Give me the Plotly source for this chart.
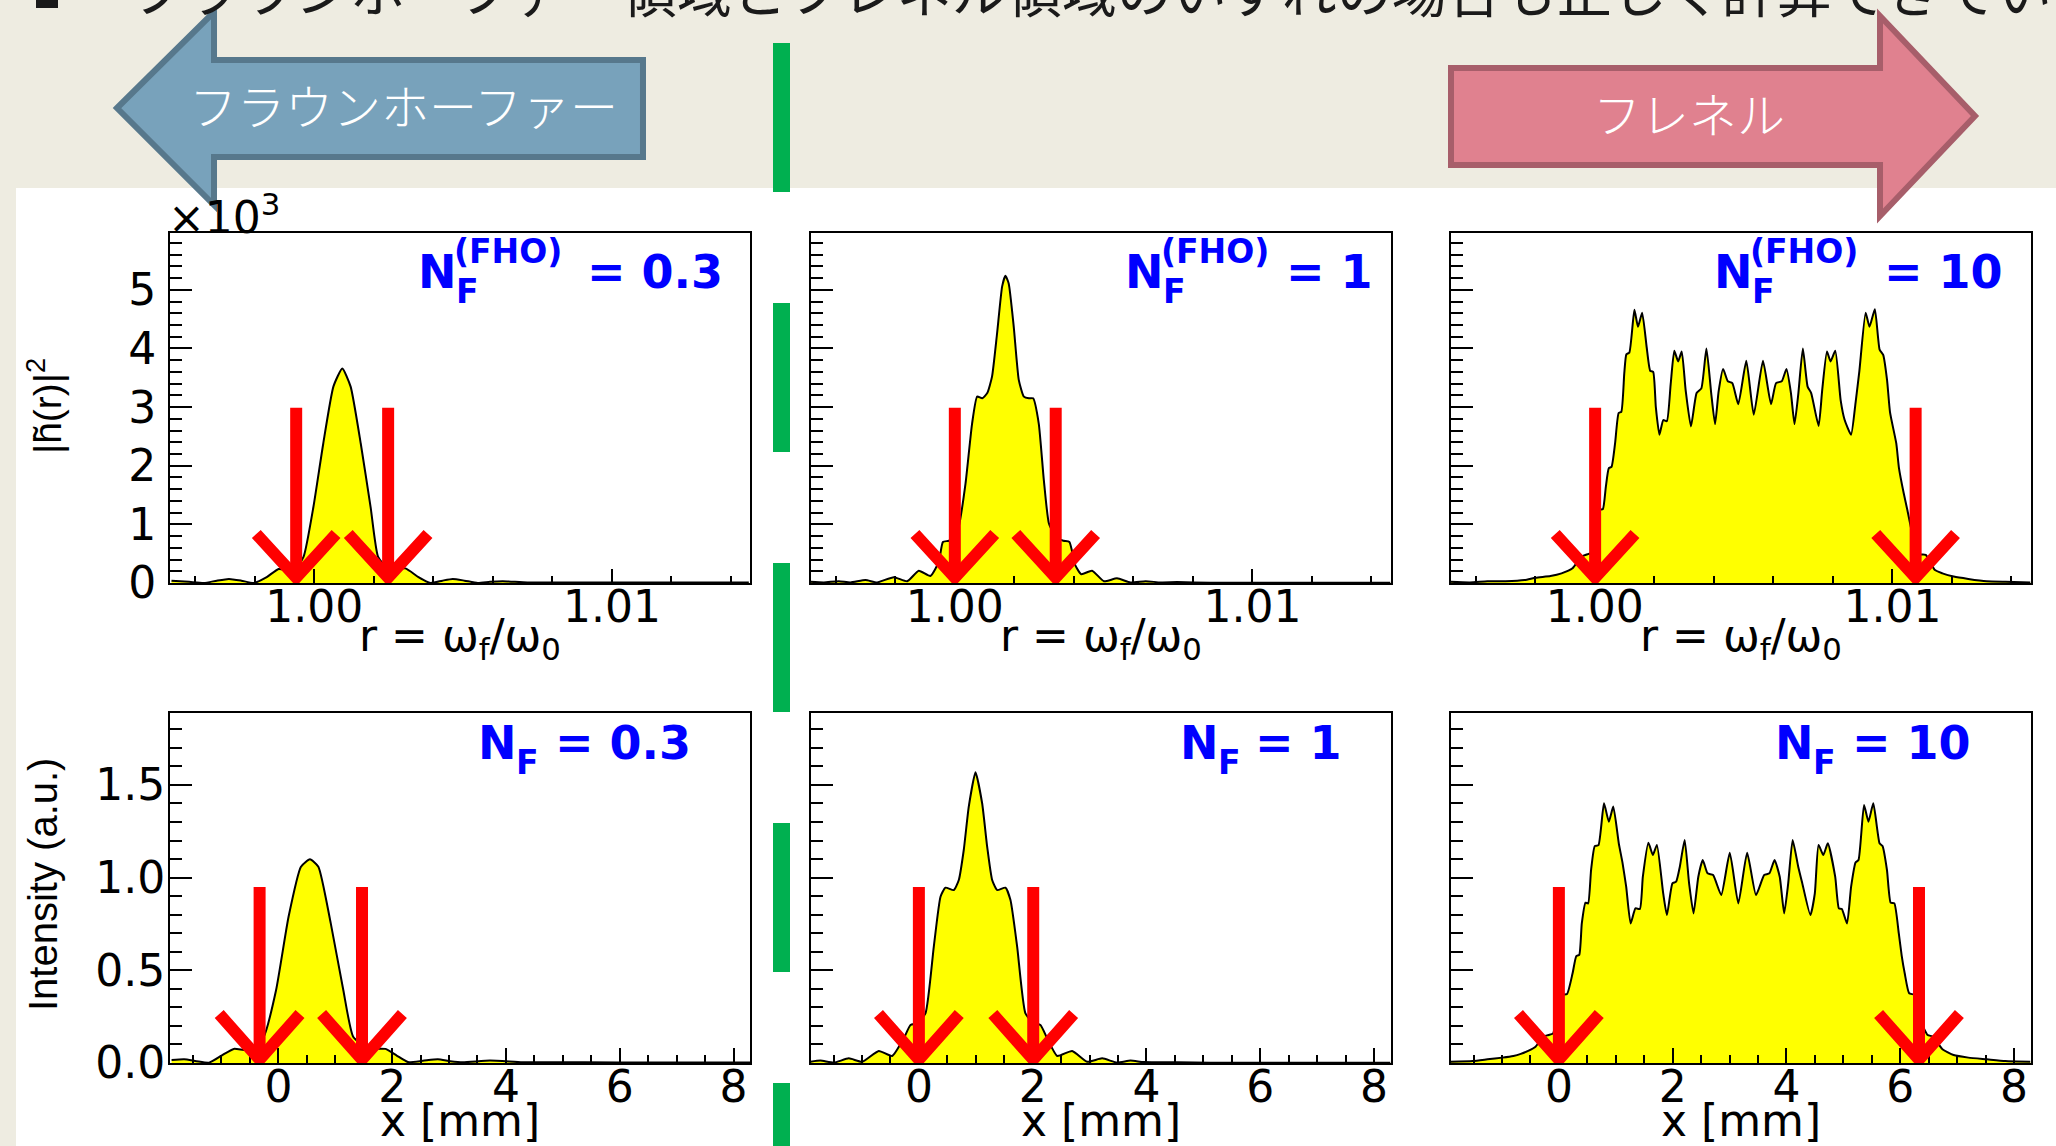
import plotly.graph_objects as go

W, H = 2056, 1146

# ---------------- data ----------------
# top row: |h~(r)|^2 (units of 10^3) versus r = omega_f / omega_0
R_NF03 = [0.99520, 0.99579, 0.99629, 0.99672, 0.99713, 0.99755, 0.99796, 0.99840, 0.99880, 0.99930,
          0.99964, 0.99997, 1.00030, 1.00064, 1.00094, 1.00122, 1.00156, 1.00189, 1.00214, 1.00248,
          1.00306, 1.00350, 1.00390, 1.00430, 1.00465, 1.00505, 1.00549, 1.00590, 1.00633, 1.00716,
          1.00950, 1.01200, 1.01460]
H_NF03 = [0.04, 0.02, 0.00, 0.04, 0.07, 0.04, 0.00, 0.10, 0.24, 0.20,
          0.45, 1.30, 2.38, 3.35, 3.66, 3.35, 2.38, 1.30, 0.45, 0.24,
          0.25, 0.10, 0.00, 0.04, 0.07, 0.04, 0.00, 0.02, 0.03, 0.01,
          0.01, 0.01, 0.01]

R_NF1 = [0.99515, 0.99560, 0.99610, 0.99649, 0.99700, 0.99739, 0.99795, 0.99840, 0.99879, 0.99918,
         0.99946, 0.99960, 0.99980, 1.00000, 1.00013, 1.00036, 1.00058, 1.00075, 1.00092, 1.00109,
         1.00125, 1.00142, 1.00159, 1.00170, 1.00181, 1.00198, 1.00215, 1.00232, 1.00249, 1.00263,
         1.00282, 1.00299, 1.00316, 1.00340, 1.00365, 1.00385, 1.00405, 1.00425, 1.00461, 1.00501,
         1.00545, 1.00590, 1.00641, 1.00691, 1.00747, 1.00859, 1.01000, 1.01200, 1.01464]
H_NF1 = [0.02, 0.01, 0.03, 0.01, 0.05, 0.01, 0.10, 0.03, 0.21, 0.12,
         0.36, 0.70, 0.72, 0.78, 0.96, 1.70, 2.72, 3.18, 3.15, 3.24,
         3.52, 4.26, 5.06, 5.24, 5.11, 4.37, 3.46, 3.18, 3.15, 3.15,
         2.72, 1.76, 1.02, 0.78, 0.72, 0.70, 0.30, 0.15, 0.21, 0.03,
         0.08, 0.01, 0.03, 0.01, 0.015, 0.005, 0.005, 0.005, 0.005]

R_NF10 = [0.99515, 0.99580, 0.99639, 0.99700, 0.99764, 0.99801, 0.99851, 0.99888, 0.99925, 0.99955,
          0.99975, 1.00005, 1.00015, 1.00027, 1.00037, 1.00047, 1.00056, 1.00068, 1.00080, 1.00089,
          1.00099, 1.00106, 1.00116, 1.00133, 1.00145, 1.00159, 1.00174, 1.00186, 1.00196, 1.00205,
          1.00217, 1.00230, 1.00242, 1.00255, 1.00267, 1.00280, 1.00292, 1.00305, 1.00323, 1.00342,
          1.00358, 1.00375, 1.00391, 1.00404, 1.00416, 1.00431, 1.00447, 1.00462, 1.00482, 1.00509,
          1.00534, 1.00565, 1.00592, 1.00609, 1.00628, 1.00644, 1.00659, 1.00671, 1.00684, 1.00699,
          1.00715, 1.00727, 1.00752, 1.00764, 1.00780, 1.00792, 1.00808, 1.00826, 1.00839, 1.00861,
          1.00876, 1.00889, 1.00910, 1.00923, 1.00941, 1.00957, 1.00969, 1.00982, 1.00992, 1.01013,
          1.01022, 1.01038, 1.01050, 1.01069, 1.01088, 1.01112, 1.01143, 1.01168, 1.01206, 1.01255,
          1.01317, 1.01380, 1.01464]
H_NF10 = [0.02, 0.01, 0.03, 0.03, 0.05, 0.09, 0.12, 0.165, 0.25, 0.45,
          0.49, 0.55, 1.25, 1.26, 1.64, 1.96, 1.98, 2.38, 2.90, 2.92,
          3.58, 3.90, 3.93, 4.66, 4.37, 4.61, 4.03, 3.62, 3.60, 3.00,
          2.53, 2.78, 2.76, 3.40, 3.96, 3.78, 3.95, 3.30, 2.67, 3.24,
          3.32, 4.00, 3.24, 2.71, 3.27, 3.65, 3.44, 3.41, 3.05, 3.79,
          2.87, 3.79, 3.05, 3.41, 3.44, 3.65, 3.24, 2.71, 3.24, 4.00,
          3.35, 3.24, 2.68, 3.29, 3.95, 3.78, 3.96, 3.12, 2.79, 2.53,
          3.07, 3.62, 4.61, 4.37, 4.67, 3.98, 3.89, 3.46, 2.91, 2.38,
          1.96, 1.53, 1.25, 0.79, 0.49, 0.48, 0.22, 0.165, 0.11, 0.07,
          0.03, 0.02, 0.01]

# bottom row: intensity (a.u.) versus x [mm]
X_NF03 = [-1.877, -1.657, -1.440, -1.220, -1.000, -0.784, -0.521, -0.258, -0.040, 0.179,
          0.397, 0.555, 0.703, 0.921, 1.141, 1.315, 1.578, 1.884, 2.080, 2.278,
          2.540, 2.801, 3.020, 3.239, 3.719, 4.288, 4.726, 6.000, 8.292]
I_NF03 = [0.016, 0.020, 0.010, 0.002, 0.040, 0.076, 0.070, 0.142, 0.394, 0.789,
          1.059, 1.099, 1.059, 0.753, 0.394, 0.142, 0.079, 0.076, 0.040, 0.005,
          0.012, 0.020, 0.010, 0.004, 0.013, 0.004, 0.004, 0.003, 0.003]

X_NF1 = [-1.905, -1.729, -1.495, -1.232, -0.997, -0.705, -0.470, -0.265, -0.147, -0.030,
         0.116, 0.262, 0.380, 0.467, 0.614, 0.702, 0.789, 0.877, 0.995, 1.112,
         1.200, 1.288, 1.376, 1.522, 1.610, 1.728, 1.873, 2.019, 2.137, 2.255,
         2.431, 2.694, 2.958, 3.222, 3.486, 3.719, 3.953, 4.540, 5.125, 8.290]
I_NF1 = [0.007, 0.013, 0.002, 0.025, 0.007, 0.065, 0.038, 0.133, 0.205, 0.214,
         0.268, 0.627, 0.897, 0.946, 0.933, 0.987, 1.149, 1.383, 1.568, 1.401,
         1.167, 0.987, 0.933, 0.946, 0.879, 0.627, 0.268, 0.214, 0.205, 0.133,
         0.038, 0.065, 0.007, 0.025, 0.002, 0.013, 0.005, 0.004, 0.002, 0.002]

X_NF10 = [-1.905, -1.515, -1.255, -0.995, -0.800, -0.670, -0.540, -0.410, -0.280, -0.182,
          -0.100, -0.052, 0.046, 0.143, 0.241, 0.306, 0.358, 0.403, 0.468, 0.514,
          0.566, 0.631, 0.696, 0.793, 0.878, 0.956, 1.053, 1.118, 1.183, 1.261,
          1.346, 1.424, 1.476, 1.574, 1.652, 1.723, 1.834, 1.899, 1.996, 2.061,
          2.126, 2.211, 2.289, 2.367, 2.451, 2.529, 2.614, 2.711, 2.854, 3.004,
          3.154, 3.309, 3.465, 3.609, 3.700, 3.791, 3.882, 3.960, 4.031, 4.109,
          4.207, 4.272, 4.421, 4.499, 4.564, 4.649, 4.727, 4.857, 4.922, 4.974,
          5.065, 5.137, 5.215, 5.267, 5.364, 5.442, 5.527, 5.637, 5.689, 5.767,
          5.832, 5.897, 5.975, 6.027, 6.079, 6.157, 6.255, 6.352, 6.482, 6.580,
          6.742, 6.938, 7.198, 7.523, 7.848, 8.290]
I_NF10 = [0.007, 0.011, 0.020, 0.029, 0.038, 0.049, 0.065, 0.088, 0.142, 0.151,
          0.160, 0.232, 0.367, 0.372, 0.484, 0.577, 0.583, 0.753, 0.865, 0.861,
          1.041, 1.170, 1.175, 1.401, 1.302, 1.383, 1.185, 1.081, 0.951, 0.753,
          0.834, 0.831, 1.005, 1.188, 1.122, 1.176, 0.915, 0.798, 0.969, 0.978,
          1.059, 1.203, 0.969, 0.807, 1.005, 1.095, 1.023, 1.014, 0.906, 1.134,
          0.861, 1.134, 0.906, 1.014, 1.023, 1.095, 1.005, 0.807, 0.969, 1.203,
          1.059, 0.978, 0.798, 0.915, 1.176, 1.122, 1.185, 1.005, 0.834, 0.831,
          0.753, 0.951, 1.081, 1.095, 1.392, 1.302, 1.401, 1.185, 1.170, 1.041,
          0.865, 0.861, 0.699, 0.577, 0.484, 0.376, 0.367, 0.232, 0.151, 0.142,
          0.074, 0.043, 0.029, 0.020, 0.011, 0.007]

NF_LABELS = ["0.3", "1", "10"]

# red marker arrows: x positions (data units)
ARROWS_TOP = [[0.99939, 1.00248], [1.00000, 1.00339], [1.00001, 1.01078]]
ARROWS_BOTTOM = [[-0.33, 1.47], [0.00, 2.01], [0.00, 6.33]]

TOP_TEXT = "フラウンホーファー領域とフレネル領域のいずれの場合も正しく計算できてい"
LEFT_ARROW_TEXT = "フラウンホーファー"
RIGHT_ARROW_TEXT = "フレネル"

# ---------------- layout helpers ----------------
def px(x):
    return x / W


def py(y):
    return 1 - y / H


def path_px(points):
    return "M " + " L ".join(f"{px(x):.5f},{py(y):.5f}" for x, y in points) + " Z"


PANEL_X = [(170, 750), (810.5, 1390.5), (1450.5, 2030.5)]
TOP_Y = (233, 583)
BOT_Y = (713, 1063)

LATIN = "DejaVu Sans"
TICKFONT = dict(family=LATIN, size=44, color="black")
axis_common = dict(showline=True, linecolor="black", linewidth=2, mirror=True,
                   ticks="inside", tickcolor="black", tickwidth=2, automargin=False,
                   showgrid=False, zeroline=False, tickfont=TICKFONT)

fig = go.Figure()
layout = dict(width=W, height=H, margin=dict(l=0, r=0, t=0, b=0, pad=0), autosize=False,
              paper_bgcolor="#EEECE1", plot_bgcolor="white", showlegend=False,
              font=dict(family=LATIN, color="black"))

top_data = [(R_NF03, H_NF03), (R_NF1, H_NF1), (R_NF10, H_NF10)]
bot_data = [(X_NF03, I_NF03), (X_NF1, I_NF1), (X_NF10, I_NF10)]

shapes = []
annotations = []

for i in range(6):
    row = 0 if i < 3 else 1
    col = i % 3
    n = i + 1
    xname = "xaxis" if n == 1 else f"xaxis{n}"
    yname = "yaxis" if n == 1 else f"yaxis{n}"
    xref = "x" if n == 1 else f"x{n}"
    yref = "y" if n == 1 else f"y{n}"
    xs, ys = (top_data if row == 0 else bot_data)[col]
    fig.add_trace(go.Scatter(x=xs, y=ys, mode="lines", xaxis=xref, yaxis=yref,
                             line=dict(color="black", width=2, shape="spline", smoothing=0.5),
                             fill="tozeroy", fillcolor="#FFFF00", hoverinfo="skip"))
    x0, x1 = PANEL_X[col]
    ytop, ybot = TOP_Y if row == 0 else BOT_Y
    if row == 0:
        xa = dict(range=[0.99515, 1.01464], tick0=1.0, dtick=0.01, tickformat=".2f", ticklen=14,
                  minor=dict(ticks="inside", tick0=1.0, dtick=0.002, ticklen=7,
                             tickcolor="black", tickwidth=2))
        ya = dict(range=[0, 5.97], tick0=0, dtick=1, ticklen=22, ticklabelstandoff=3,
                  minor=dict(ticks="inside", tick0=0, dtick=0.2, ticklen=12,
                             tickcolor="black", tickwidth=2))
    else:
        xa = dict(range=[-1.905, 8.29], tick0=0, dtick=2, ticklen=15,
                  minor=dict(ticks="inside", tick0=0, dtick=0.5, ticklen=8,
                             tickcolor="black", tickwidth=2))
        ya = dict(range=[0, 1.888], tick0=0, dtick=0.5, tickformat=".1f", ticklen=22,
                  ticklabelstandoff=-6,
                  minor=dict(ticks="inside", tick0=0, dtick=0.1, ticklen=12,
                             tickcolor="black", tickwidth=2))
    layout[xname] = dict(axis_common, domain=[px(x0), px(x1)], anchor=yref,
                         ticklabelstandoff=-16, **xa)
    layout[yname] = dict(axis_common, domain=[py(ybot), py(ytop)], anchor=xref,
                         showticklabels=(col == 0), **ya)

    # red arrows
    if row == 0:
        level, vertex, arm_y, arm_dx = 2.99, 0.094, 0.836, 0.00134
        positions = ARROWS_TOP[col]
    else:
        level, vertex, arm_y, arm_dx = 0.949, 0.019, 0.264, 0.71
        positions = ARROWS_BOTTOM[col]
    for xa_pos in positions:
        shapes.append(dict(type="line", xref=xref, yref=yref, x0=xa_pos, x1=xa_pos,
                           y0=level, y1=vertex, line=dict(color="#FF0000", width=12), layer="above"))
        shapes.append(dict(type="path", xref=xref, yref=yref,
                           path=f"M {xa_pos - arm_dx},{arm_y} L {xa_pos},{vertex} L {xa_pos + arm_dx},{arm_y}",
                           line=dict(color="#FF0000", width=12), layer="above"))

    # axis titles (x)
    cx = (x0 + x1) / 2
    if row == 0:
        annotations.append(dict(text="r = ω<sub>f</sub>/ω<sub>0</sub>", x=px(cx), y=py(638),
                                xref="paper", yref="paper", showarrow=False,
                                xanchor="center", yanchor="middle",
                                font=dict(family=LATIN, size=44, color="black")))
    else:
        annotations.append(dict(text="x [mm]", x=px(cx), y=py(1120),
                                xref="paper", yref="paper", showarrow=False,
                                xanchor="center", yanchor="middle",
                                font=dict(family=LATIN, size=44, color="black")))

# ---------------- blue N_F labels ----------------
BLUE = "#0000FF"
BIG = dict(family=LATIN, size=46, color=BLUE)
SMALL = dict(family=LATIN, size=33, color=BLUE)
top_label_pos = [(416, 585), (1123, 1284), (1712, 1882)]   # N left, "=" left
for (nx, ex), val in zip(top_label_pos, NF_LABELS):
    annotations += [
        dict(text="<b>N</b>", x=px(nx), y=py(272), font=BIG),
        dict(text="<b>(FHO)</b>", x=px(nx + 36), y=py(251), font=SMALL),
        dict(text="<b>F</b>", x=px(nx + 38), y=py(291), font=SMALL),
        dict(text=f"<b>= {val}</b>", x=px(ex), y=py(272), font=BIG),
    ]
bot_label_pos = [(476, 553), (1178, 1253), (1773, 1850)]
for (nx, ex), val in zip(bot_label_pos, NF_LABELS):
    annotations += [
        dict(text="<b>N</b>", x=px(nx), y=py(743), font=BIG),
        dict(text="<b>F</b>", x=px(nx + 38), y=py(762), font=SMALL),
        dict(text=f"<b>= {val}</b>", x=px(ex), y=py(743), font=BIG),
    ]
for a in annotations:
    a.setdefault("xref", "paper")
    a.setdefault("yref", "paper")
    a.setdefault("showarrow", False)
    a.setdefault("xanchor", "left")
    a.setdefault("yanchor", "middle")

# ---------------- y titles, multiplier ----------------
annotations += [
    dict(text="|h\u0303(r)|<sup>2</sup>", x=px(45), y=py(406), xref="paper", yref="paper",
         showarrow=False, textangle=-90, xanchor="center", yanchor="middle",
         font=dict(family="Liberation Sans, Arial", size=39, color="black")),
    dict(text="Intensity (a.u.)", x=px(43), y=py(885), xref="paper", yref="paper",
         showarrow=False, textangle=-90, xanchor="center", yanchor="middle",
         font=dict(family="Liberation Sans, Arial", size=40, color="black")),
    dict(text="×10<sup>3</sup>", x=px(166), y=py(214), xref="paper", yref="paper",
         showarrow=False, xanchor="left", yanchor="middle",
         font=dict(family=LATIN, size=44, color="black")),
]

# ---------------- slide decorations ----------------
shapes.insert(0, dict(type="rect", xref="paper", yref="paper", x0=px(16), x1=1, y0=0, y1=py(188),
                      fillcolor="white", line=dict(width=0), layer="below"))
# left (blue) arrow
shapes.append(dict(type="path", xref="paper", yref="paper", layer="below",
                   path=path_px([(117, 108), (214, 12), (214, 60), (643, 60), (643, 157),
                                 (214, 157), (214, 205)]),
                   fillcolor="#78A2BB", line=dict(color="#57788C", width=6)))
# right (pink) arrow
shapes.append(dict(type="path", xref="paper", yref="paper", layer="below",
                   path=path_px([(1451, 68), (1880, 68), (1880, 16), (1975, 116), (1880, 216),
                                 (1880, 165), (1451, 165)]),
                   fillcolor="#E0818F", line=dict(color="#A75E6A", width=6)))
# green dashed divider
for y0 in [43, 303, 563, 823, 1083]:
    shapes.append(dict(type="rect", xref="paper", yref="paper", layer="below",
                       x0=px(773), x1=px(790), y0=py(min(y0 + 149, H)), y1=py(y0),
                       fillcolor="#00B050", line=dict(width=0)))
# bullet square (cut by the top edge)
shapes.append(dict(type="rect", xref="paper", yref="paper", layer="below",
                   x0=px(36), x1=px(58), y0=py(8), y1=py(-16),
                   fillcolor="#1A1A1A", line=dict(width=0)))

JP = "Noto Sans CJK JP"
annotations += [
    dict(text=TOP_TEXT, x=px(128), y=py(-12), xref="paper", yref="paper", showarrow=False,
         xanchor="left", yanchor="middle", font=dict(family=JP, size=55, color="#1A1A1A")),
    dict(text=LEFT_ARROW_TEXT, x=px(403), y=py(104), xref="paper", yref="paper", showarrow=False,
         xanchor="center", yanchor="middle", font=dict(family=JP, size=48, color="white", weight=300)),
    dict(text=RIGHT_ARROW_TEXT, x=px(1689), y=py(112), xref="paper", yref="paper", showarrow=False,
         xanchor="center", yanchor="middle", font=dict(family=JP, size=48, color="white", weight=300)),
]

layout["shapes"] = shapes
layout["annotations"] = annotations
fig.update_layout(**layout)
fig.write_html("out.html")
